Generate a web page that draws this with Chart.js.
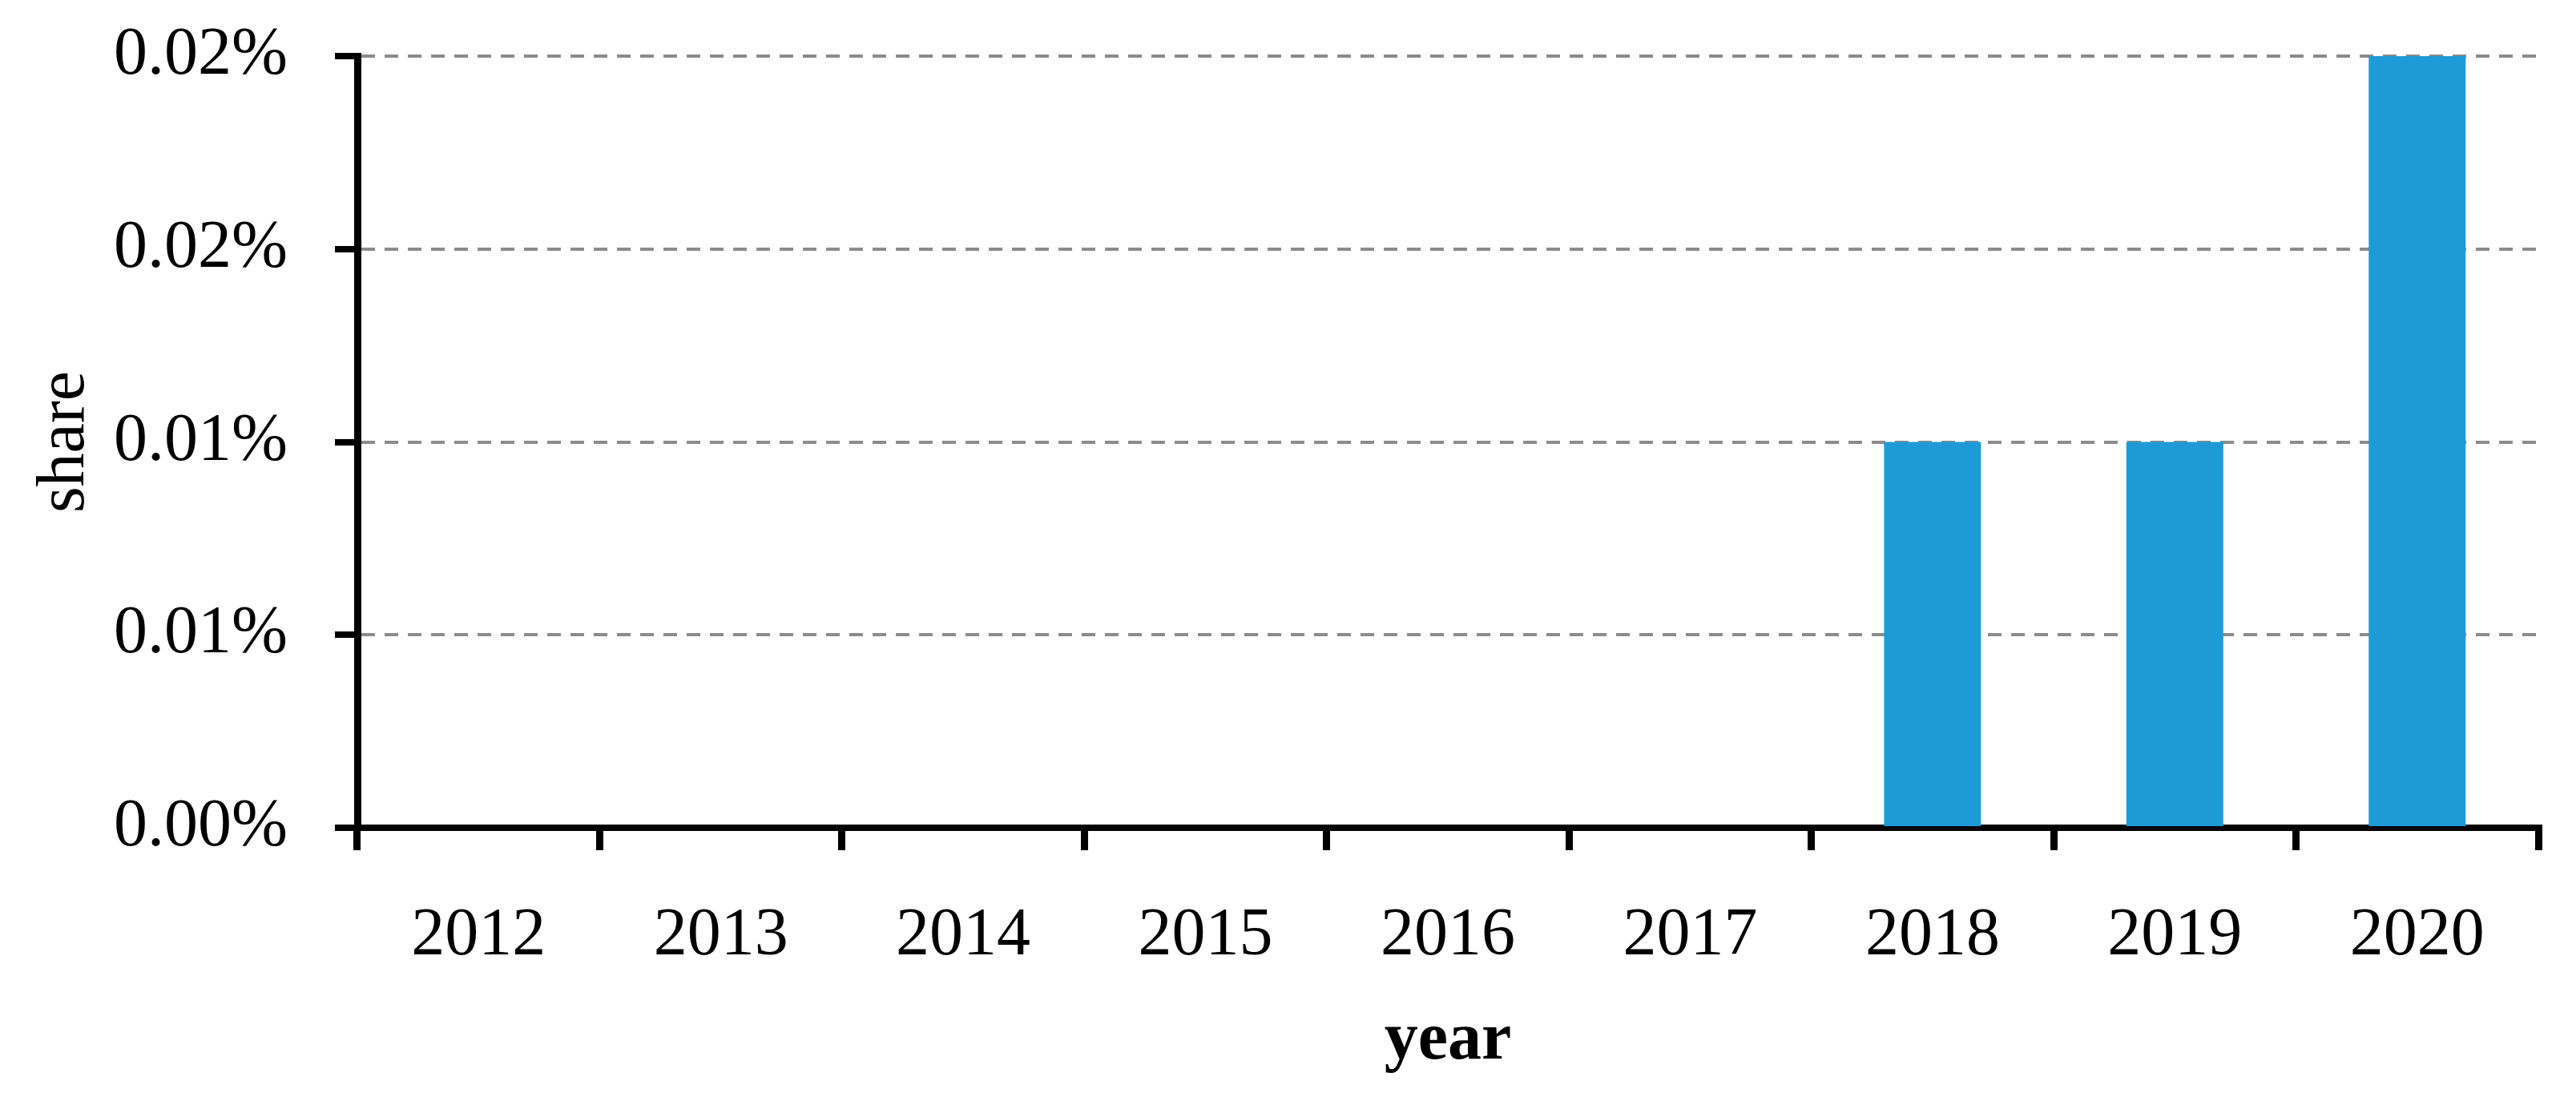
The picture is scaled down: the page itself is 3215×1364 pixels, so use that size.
<!DOCTYPE html>
<html>
<head>
<meta charset="utf-8">
<script src="https://cdn.jsdelivr.net/npm/chart.js@4.4.1/dist/chart.umd.min.js"></script>
<style>
    body { margin: 0; background: #ffffff; }
    #wrap { width: 3215px; height: 1364px; }
</style>
</head>
<body>
<div id="wrap"><canvas id="chartShare" width="3215" height="1364"></canvas></div>
<script>
// Dados do gráfico
const anos = ['2012', '2013', '2014', '2015', '2016', '2017', '2018', '2019', '2020'];
const share = [0, 0, 0, 0, 0, 0, 0.01, 0.01, 0.02];
const yTickValues = [0, 0.005, 0.01, 0.015, 0.02];
const yTickLabels = ['0.00%', '0.01%', '0.01%', '0.02%', '0.02%'];

const FONTE = "'Liberation Serif', 'Times New Roman', serif";
const TAM = 84;

Chart.defaults.font.family = FONTE;
Chart.defaults.color = '#000000';

const ctx = document.getElementById('chartShare').getContext('2d');
const chart = new Chart(ctx, {
    type: 'bar',
    data: {
        labels: anos,
        datasets: [{
            label: 'share',
            data: share,
            backgroundColor: '#1e9bd7',
            borderWidth: 0,
            categoryPercentage: 1,
            barPercentage: 0.4
        }]
    },
    options: {
        responsive: false,
        animation: false,
        devicePixelRatio: 1,
        layout: {
            padding: { top: 70, right: 47, bottom: 0, left: 0 }
        },
        plugins: {
            legend: { display: false },
            tooltip: { enabled: false }
        },
        scales: {
            x: {
                z: 1,
                grid: {
                    drawOnChartArea: false,
                    drawTicks: true,
                    tickLength: 28,
                    tickColor: '#000000',
                    tickWidth: 9,
                    lineWidth: 9,
                    color: '#000000'
                },
                border: { display: true, color: '#000000', width: 8 },
                ticks: {
                    padding: 58,
                    maxRotation: 0,
                    font: { size: TAM }
                },
                title: {
                    display: true,
                    text: 'year',
                    font: { size: TAM, weight: 'bold' },
                    padding: { top: 0, bottom: 14 }
                },
                afterFit: (scale) => {
                    scale.height = 331;
                    scale.paddingLeft = 0;
                    scale.paddingRight = 0;
                }
            },
            y: {
                min: 0,
                max: 0.02,
                grid: {
                    color: '#8c8c8c',
                    lineWidth: 4,
                    drawTicks: true,
                    tickLength: 28,
                    tickColor: '#000000',
                    tickWidth: 8,
                    tickBorderDash: []
                },
                border: { display: true, color: '#000000', width: 9, dash: [17, 12] },
                afterBuildTicks: (scale) => {
                    scale.ticks = yTickValues.map(v => ({ value: v }));
                },
                ticks: {
                    padding: 59,
                    font: { size: TAM },
                    callback: (value, index) => yTickLabels[index]
                },
                title: {
                    display: true,
                    text: 'share',
                    font: { size: TAM },
                    padding: { top: 32, bottom: 0 }
                },
                afterFit: (scale) => {
                    scale.width = 446;
                    scale.paddingTop = 0;
                    scale.paddingBottom = 0;
                }
            }
        }
    }
});
</script>
</body>
</html>
